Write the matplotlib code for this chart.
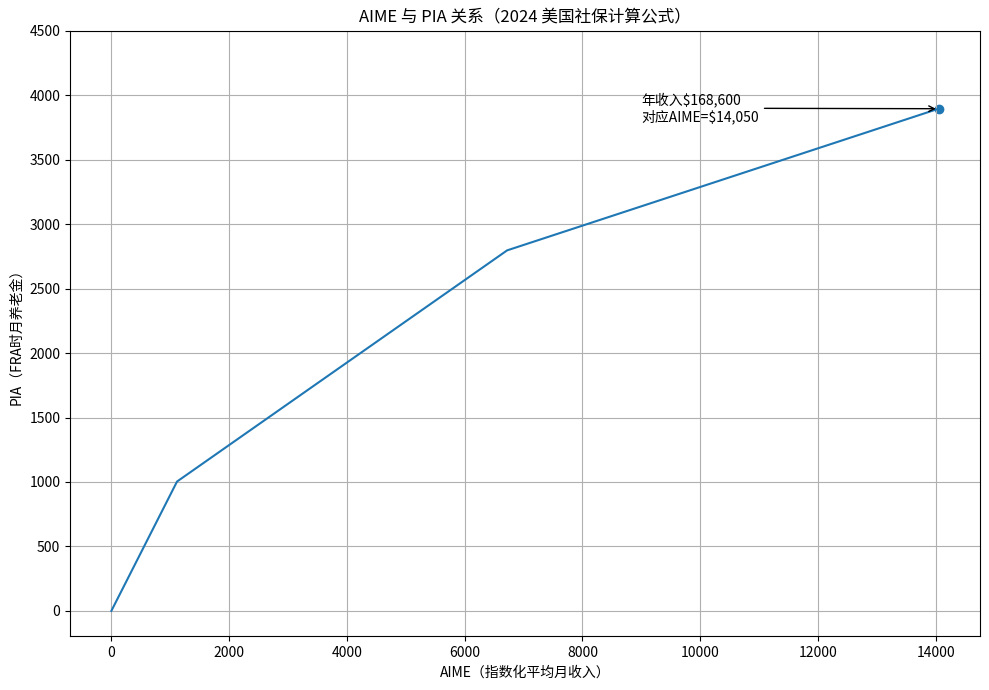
import matplotlib
matplotlib.use("Agg")
import matplotlib.pyplot as plt

plt.rcParams['font.family'] = ['Noto Sans CJK SC', 'DejaVu Sans']
plt.rcParams['axes.unicode_minus'] = False

# AIME bend points (monthly) and the PIA at each one
aime = [0, 1115, 6721, 14050]
pia = [0, 1003.5, 2797.4, 3896.8]

# highlighted point
point_aime = 14050
point_pia = 3896.8
note = "年收入$168,600\n对应AIME=$14,050"

fig, ax = plt.subplots(figsize=(9.89, 6.9), dpi=100)
ax.plot(aime, pia)
ax.scatter([point_aime], [point_pia])
ax.annotate(note, xy=(point_aime, point_pia), xytext=(9000, 3800),
            arrowprops=dict(arrowstyle='->', color='black'))

ax.set_ylim(-195, 4500)
ax.set_yticks(range(0, 4501, 500))
ax.set_title("AIME 与 PIA 关系（2024 美国社保计算公式）")
ax.set_xlabel("AIME（指数化平均月收入）")
ax.set_ylabel("PIA（FRA时月养老金）")
ax.grid(True)

fig.subplots_adjust(left=0.0708, right=0.9909, top=0.9551, bottom=0.0783)
fig.savefig("out.png")
